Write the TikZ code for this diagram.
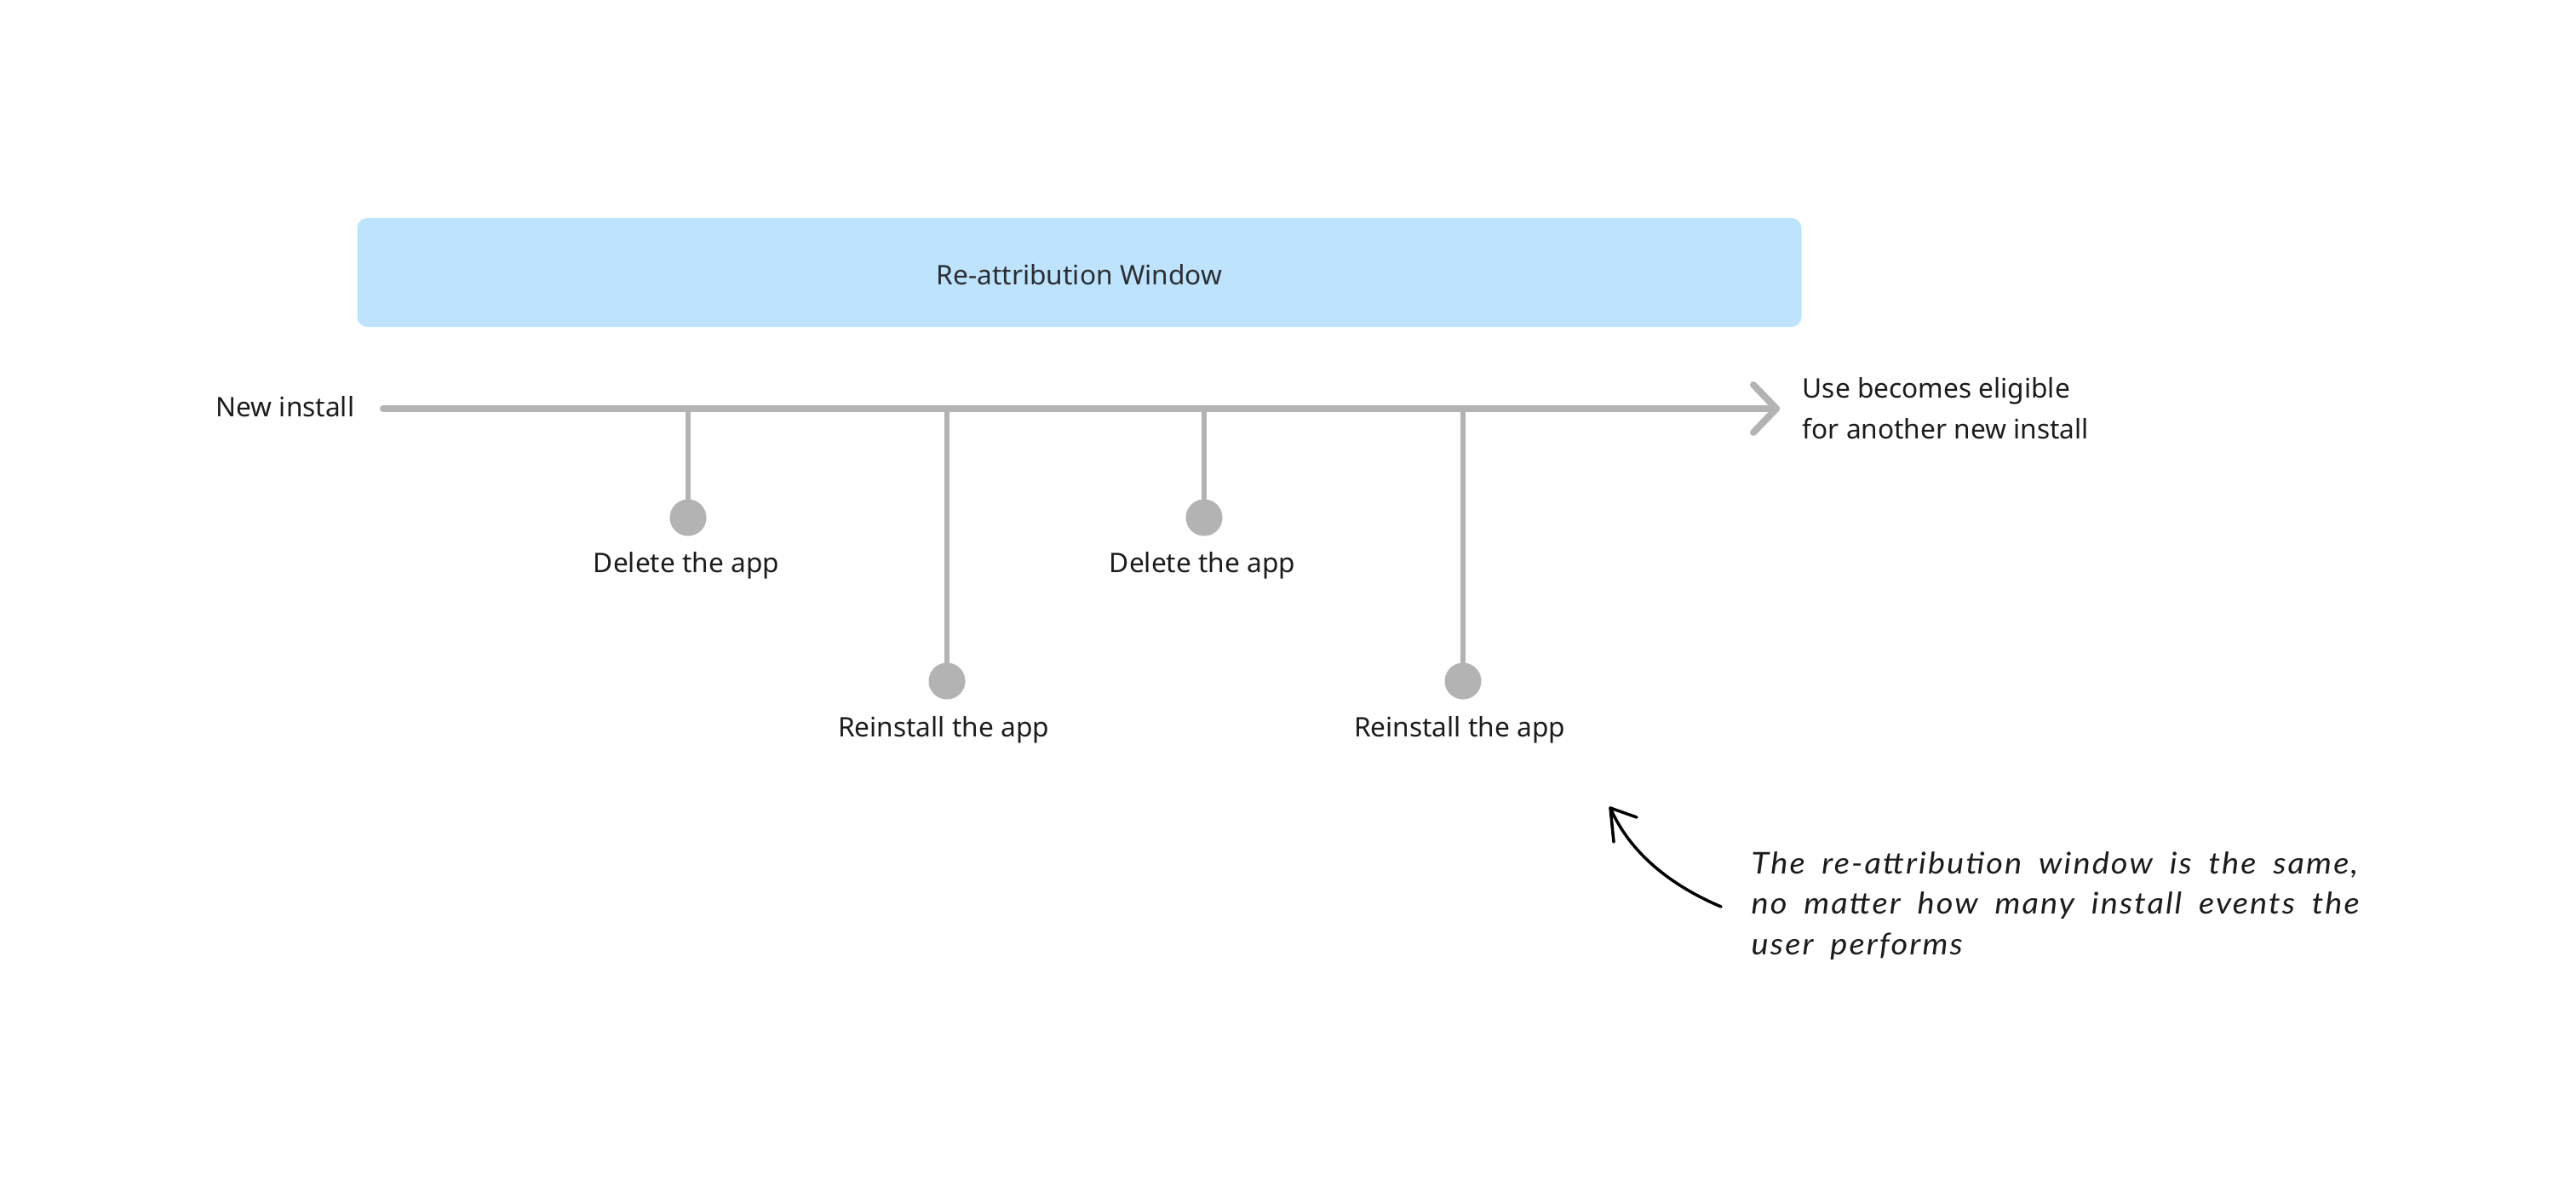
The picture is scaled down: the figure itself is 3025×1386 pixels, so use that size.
\documentclass[tikz,border=0pt]{standalone}
\usepackage{fontspec}
\usetikzlibrary{calc}
\setmainfont{Noto Sans}
\newfontfamily\handfont[FakeStretch=1.08,LetterSpace=6,WordSpace=1.8]{Lato}
\definecolor{winblue}{HTML}{BEE3FD}
\definecolor{tlgray}{HTML}{B3B3B3}
\definecolor{txtdark}{HTML}{1C1C1C}
\definecolor{wintxt}{HTML}{2A2E33}
\tikzset{
  window/.style={fill=winblue, rounded corners=0.12cm, minimum width=16.95cm, minimum height=1.28cm, inner sep=0pt},
  wintext/.style={inner sep=0pt, text=wintxt, font=\fontsize{9}{11}\selectfont},
  lbl/.style={inner sep=0pt, text=txtdark, font=\fontsize{9}{11}\selectfont},
  dot/.style={circle, fill=tlgray, minimum size=0.43cm, inner sep=0pt},
  mainline/.style={draw=tlgray, line width=0.08cm, line cap=round, line join=round},
  stem/.style={draw=tlgray, line width=0.06cm},
  hand/.style={inner sep=0pt, text=txtdark, align=left, font=\handfont\itshape\fontsize{10}{13.6}\selectfont},
  note/.style={draw=black, line width=0.035cm, line cap=round, line join=round}
}
\begin{document}
\begin{tikzpicture}[x=0.01cm,y=-0.01cm]
\useasboundingbox (0,0) rectangle (3025,1386);
\fill[white] (0,0) rectangle (3025,1386);
% window
\node[window] (win) at (1267.5,320) {};
\node[wintext] (wintitle) at (1267.5,323) {Re-attribution Window};
% timeline
\coordinate (t0) at (450,480);
\coordinate (t1) at (2086,480);
\draw[mainline] (t0) -- (t1);
\draw[mainline] ($(t1)+(-27,-28)$) -- (t1) -- ($(t1)+(-27,28)$);
\node[lbl, anchor=base east] (newinst) at (417,490) {New install};
\node[lbl, anchor=west, align=left, font=\fontsize{9}{13.6}\selectfont] (elig) at (2116,480) {Use becomes eligible\\for another new install};
% events
\coordinate (s1) at (808,480);
\coordinate (s2) at (1112,480);
\coordinate (s3) at (1414,480);
\coordinate (s4) at (1718,480);
\node[dot] (c1) at (808,608) {};
\node[dot] (c2) at (1112,800) {};
\node[dot] (c3) at (1414,608) {};
\node[dot] (c4) at (1718,800) {};
\draw[stem] (s1) -- (c1.center);
\draw[stem] (s2) -- (c2.center);
\draw[stem] (s3) -- (c3.center);
\draw[stem] (s4) -- (c4.center);
\node[lbl, anchor=base] (l1) at (806,673) {Delete the app};
\node[lbl, anchor=base] (l2) at (1108,866) {Reinstall the app};
\node[lbl, anchor=base] (l3) at (1412,673) {Delete the app};
\node[lbl, anchor=base] (l4) at (1714,866) {Reinstall the app};
% annotation
\node[hand, anchor=west] (ann) at (2056,1064) {The re-attribution window is the same,\\no matter how many install events the\\user performs};
\coordinate (atail) at (2021,1065);
\coordinate (atip) at (1891,949);
\draw[note] (atail) .. controls (1962,1040) and (1914,1002) .. (atip);
\draw[note] (1922,960) -- (atip) -- (1895,989);
\end{tikzpicture}
\end{document}
